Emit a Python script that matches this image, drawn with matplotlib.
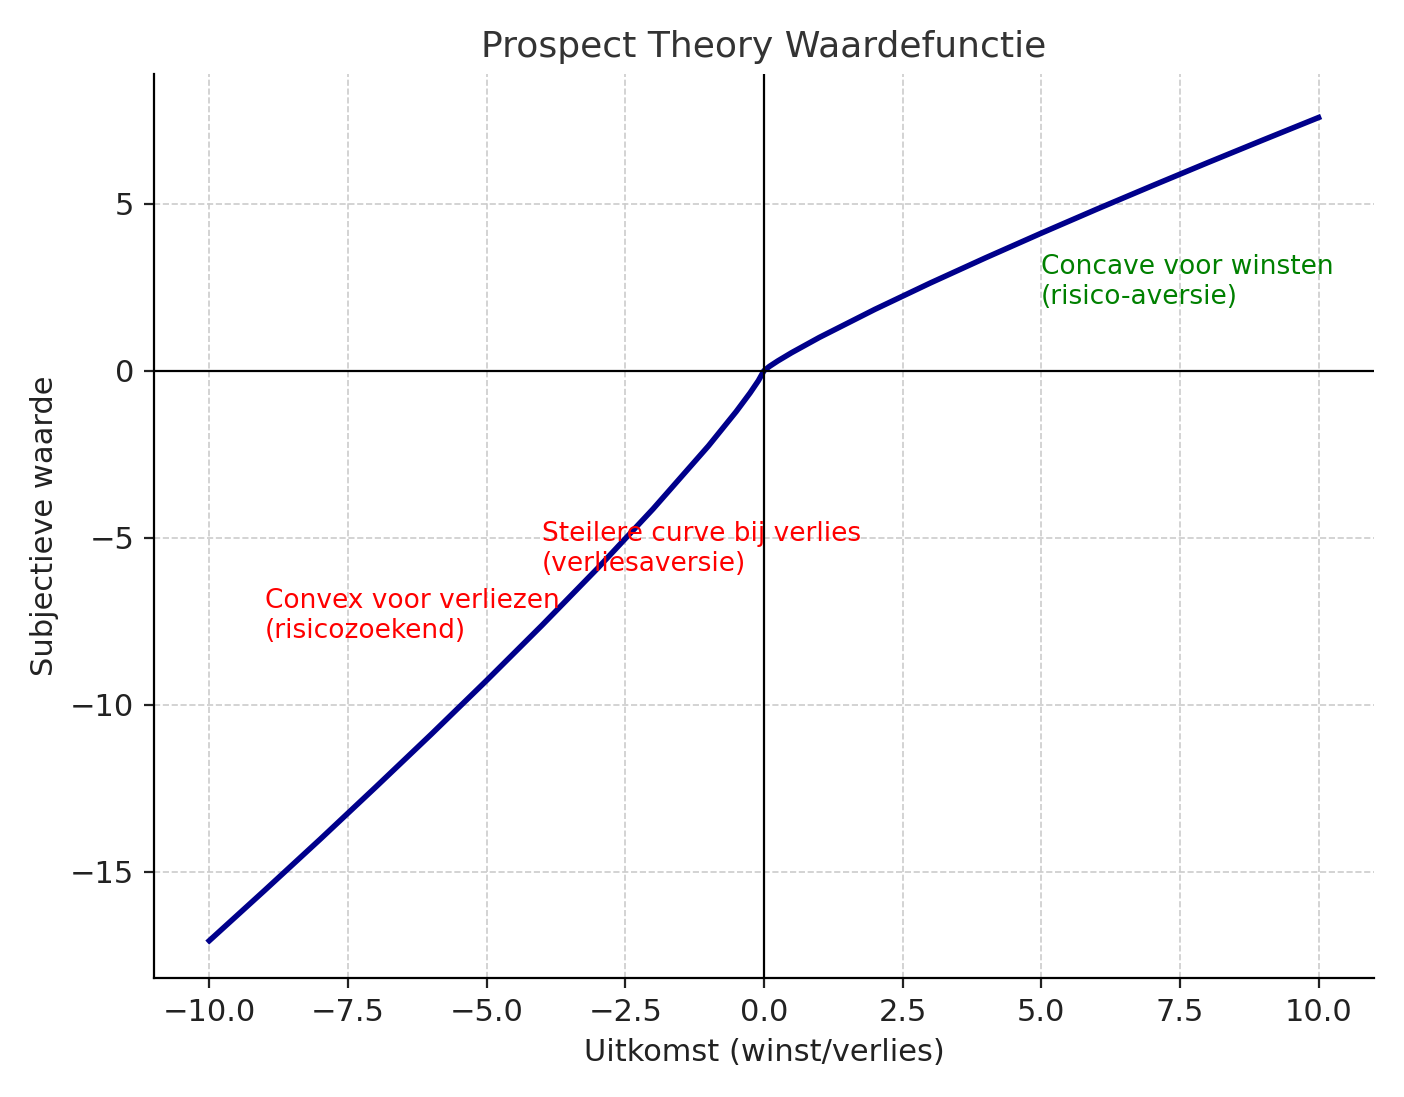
import matplotlib
matplotlib.use("Agg")
import matplotlib.pyplot as plt

x_vals = [-10, -9, -8, -7, -6, -5, -4, -3, -2, -1, -0.5, -0.25, -0.1, 0,
          0.1, 0.25, 0.5, 1, 2, 3, 4, 5, 6, 7, 8, 9, 10]
y_vals = [-17.07, -15.56, -14.03, -12.47, -10.89, -9.275, -7.621, -5.918, -4.14, -2.25,
          -1.222, -0.664, -0.297, 0,
          0.132, 0.295, 0.543, 1.0, 1.84, 2.63, 3.387, 4.122, 4.84, 5.542, 6.234, 6.914, 7.586]

fig, ax = plt.subplots(figsize=(7.02, 5.485), dpi=200)
ax.plot(x_vals, y_vals, color="darkblue", lw=2)
ax.axhline(0, color="black", lw=0.8)
ax.axvline(0, color="black", lw=0.8)
ax.grid(True, ls="--", color="#cccccc", lw=0.6)
for s in ["top", "right"]:
    ax.spines[s].set_visible(False)
ax.set_xlim(-11, 11)
ax.set_ylim(-18.2, 8.9)
ax.set_title("Prospect Theory Waardefunctie", fontsize=13, color="#333333")
ax.set_xlabel("Uitkomst (winst/verlies)", fontsize=11, color="#222222")
ax.set_ylabel("Subjectieve waarde", fontsize=11, color="#222222")
ax.tick_params(labelsize=11, colors="#222222")
ax.text(5, 2, "Concave voor winsten\n(risico-aversie)", color="green", fontsize=9.5)
ax.text(-9, -8, "Convex voor verliezen\n(risicozoekend)", color="red", fontsize=9.5)
ax.text(-4, -6, "Steilere curve bij verlies\n(verliesaversie)", color="red", fontsize=9.5)
fig.tight_layout()
fig.savefig("out.png")
